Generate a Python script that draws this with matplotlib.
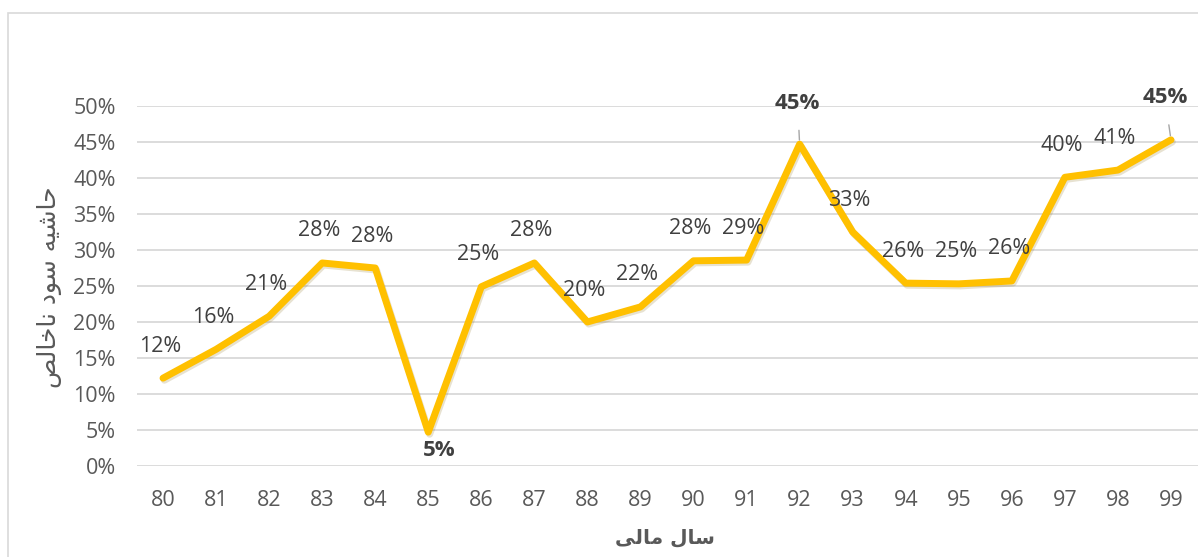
import matplotlib
matplotlib.use("Agg")
import matplotlib.pyplot as plt
import matplotlib.patheffects as pe
from matplotlib.patches import Rectangle

# ---------------- data ----------------
years = ["80", "81", "82", "83", "84", "85", "86", "87", "88", "89",
         "90", "91", "92", "93", "94", "95", "96", "97", "98", "99"]
margin = [0.122, 0.162, 0.208, 0.282, 0.275, 0.047, 0.249, 0.282, 0.200, 0.221,
          0.285, 0.286, 0.447, 0.325, 0.254, 0.253, 0.257, 0.401, 0.411, 0.453]
labels = ["12%", "16%", "21%", "28%", "28%", "5%", "25%", "28%", "20%", "22%",
          "28%", "29%", "45%", "33%", "26%", "25%", "26%", "40%", "41%", "45%"]
bold_idx = [5, 12, 19]
ytick_vals = [0, 0.05, 0.10, 0.15, 0.20, 0.25, 0.30, 0.35, 0.40, 0.45, 0.50]
ytick_labels = ["0%", "5%", "10%", "15%", "20%", "25%", "30%", "35%", "40%", "45%", "50%"]
ylabel_text = "حاشیه سود ناخالص"
xlabel_text = "سال مالی"

# ------------- simple Arabic/Persian shaping (matplotlib has no RTL shaping) -------------
FORMS = {
    "ا": (0xFE8D, 0xFE8E), "د": (0xFEA9, 0xFEAA), "و": (0xFEED, 0xFEEE),
    "ح": (0xFEA1, 0xFEA2, 0xFEA3, 0xFEA4), "خ": (0xFEA5, 0xFEA6, 0xFEA7, 0xFEA8),
    "س": (0xFEB1, 0xFEB2, 0xFEB3, 0xFEB4), "ش": (0xFEB5, 0xFEB6, 0xFEB7, 0xFEB8),
    "ص": (0xFEB9, 0xFEBA, 0xFEBB, 0xFEBC), "ل": (0xFEDD, 0xFEDE, 0xFEDF, 0xFEE0),
    "م": (0xFEE1, 0xFEE2, 0xFEE3, 0xFEE4), "ن": (0xFEE5, 0xFEE6, 0xFEE7, 0xFEE8),
    "ه": (0xFEE9, 0xFEEA, 0xFEEB, 0xFEEC), "ی": (0xFBFC, 0xFBFD, 0xFBFE, 0xFBFF),
}


def shape(text):
    out = []
    for i, ch in enumerate(text):
        if ch not in FORMS:
            out.append(ch)
            continue
        f = FORMS[ch]
        prev = text[i - 1] if i > 0 else ""
        nxt = text[i + 1] if i + 1 < len(text) else ""
        jp = prev in FORMS and len(FORMS[prev]) == 4
        jn = len(f) == 4 and nxt in FORMS
        if jp and jn:
            c = f[3]
        elif jp:
            c = f[1]
        elif jn:
            c = f[2]
        else:
            c = f[0]
        out.append(chr(c))
    return "".join(reversed(out))


# ---------------- figure ----------------
plt.rcParams["font.family"] = ["Open Sans", "DejaVu Sans"]
W, H = 1198, 557
fig = plt.figure(figsize=(W / 100, H / 100), dpi=100)
fig.patch.set_facecolor("white")

# outer chart border
fig.patches.append(Rectangle((8 / W, -0.02), 1.2, 1 - 13 / H + 0.02, transform=fig.transFigure,
                             fill=False, edgecolor="#d9d9d9", linewidth=1.2))

ax = fig.add_axes([136.5 / W, 91 / H, 1061 / W, 360 / H])
x = list(range(len(years)))
ax.plot(x, margin, color="#FFC000", linewidth=5.0, solid_joinstyle="round",
        solid_capstyle="round", clip_on=False, zorder=3,
        path_effects=[pe.SimpleLineShadow(offset=(1, -1.5), alpha=0.18, shadow_color="#7f6000"),
                      pe.Normal()])

ax.set_xlim(-0.5, len(years) - 0.5)
ax.set_ylim(0, 0.5)
ax.set_yticks(ytick_vals)
ax.set_yticklabels(ytick_labels)
ax.set_xticks(x)
ax.set_xticklabels(years)
ax.grid(axis="y", color="#d9d9d9", linewidth=1.3)
ax.set_axisbelow(True)
for s in ax.spines.values():
    s.set_visible(False)
ax.tick_params(axis="both", length=0, colors="#595959", labelsize=15.5)
ax.tick_params(axis="y", pad=15)
ax.tick_params(axis="x", pad=17)

# data labels
for i, (xv, yv, lab) in enumerate(zip(x, margin, labels)):
    if i in bold_idx:
        continue
    ax.annotate(lab, (xv, yv), xytext=(-3, 32), textcoords="offset pixels",
                ha="center", va="center", fontsize=15.5, color="#404040", zorder=4)

# bold labels
ax.annotate(labels[5], (5, margin[5]), xytext=(11, -18), textcoords="offset pixels",
            ha="center", va="center", fontsize=16, fontweight="bold", color="#404040")
ax.annotate(labels[12], (12, margin[12]), xytext=(-2, 41), textcoords="offset pixels",
            ha="center", va="center", fontsize=16, fontweight="bold", color="#404040",
            arrowprops=dict(arrowstyle="-", color="#a6a6a6", lw=1, shrinkA=10, shrinkB=3))
ax.annotate(labels[19], (19, margin[19]), xytext=(-6, 42), textcoords="offset pixels",
            ha="center", va="center", fontsize=16, fontweight="bold", color="#404040",
            arrowprops=dict(arrowstyle="-", color="#a6a6a6", lw=1, shrinkA=10, shrinkB=3))

# axis titles (Persian)
fig.text(50 / W, 1 - 287 / H, shape(ylabel_text), rotation=90, ha="center", va="center",
         fontsize=18, color="#595959", family=["DejaVu Sans"])
fig.text(665 / W, 1 - 538 / H, shape(xlabel_text), ha="center", va="center",
         fontsize=14.5, fontweight="bold", color="#595959", family=["DejaVu Sans"])

fig.savefig("out.png", dpi=100, facecolor="white")
